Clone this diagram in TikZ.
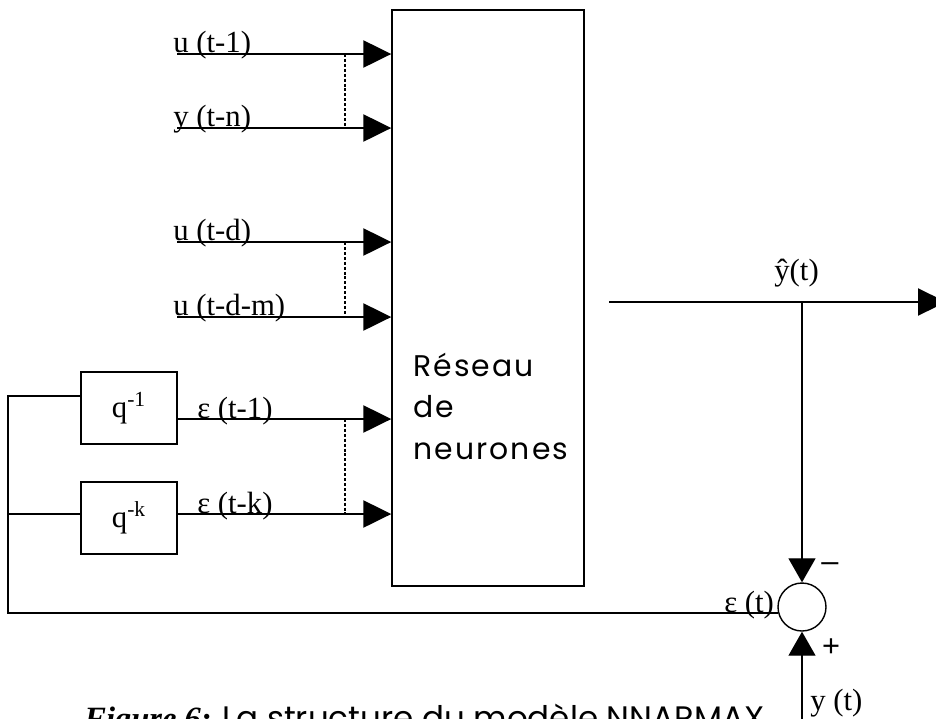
\documentclass[tikz,border=0pt]{standalone}
\usepackage{fontspec}
\setmainfont{Liberation Serif}
\setsansfont{Poppins}
\newfontfamily\signfont{Liberation Sans}
\usetikzlibrary{arrows.meta}

\tikzset{
  sig/.style={line width=1.3pt, -{Triangle[length=0.56cm,width=0.54cm]}},
  thinsig/.style={line width=0.75pt, -{Triangle[length=0.48cm,width=0.54cm]}},
  fbline/.style={line width=0.75pt},
  dotline/.style={line width=0.6pt, dash pattern=on 1.7pt off 1.1pt},
  delaybox/.style={draw, line width=0.8pt, minimum width=1.92cm, minimum height=1.44cm, inner sep=0pt, font=\fontsize{17.5}{19}\selectfont},
  lbl/.style={font=\fontsize{17.5}{19}\selectfont, inner sep=0pt, anchor=base west},
  sign/.style={font=\signfont\fontsize{17.5}{18}\selectfont, inner sep=0pt},
}

\begin{document}
\begin{tikzpicture}[x=0.02cm,y=-0.02cm]
  \useasboundingbox (0,0) rectangle (936,718);

  % neural network block
  \node[draw, line width=0.8pt, minimum width=3.84cm, minimum height=11.52cm, inner sep=0pt] (nn) at (488,298) {};
  \node[anchor=base west, inner sep=0pt, align=left,
        font={\sffamily\fontsize{17}{23.6}\selectfont\addfontfeature{LetterSpace=7}}] (nntxt) at (413,459) {Réseau\\de\\neurones};

  % inputs u and y
  \coordinate (in1) at (177,54);
  \coordinate (in2) at (177,128);
  \coordinate (in3) at (177,242);
  \coordinate (in4) at (177,317);
  \coordinate (dx) at (345,0);

  \draw[sig] (in1) -- (in1 -| nn.west);
  \draw[sig] (in2) -- (in2 -| nn.west);
  \draw[sig] (in3) -- (in3 -| nn.west);
  \draw[sig] (in4) -- (in4 -| nn.west);
  \draw[dotline] (in1 -| dx) -- (in2 -| dx);
  \draw[dotline] (in3 -| dx) -- (in4 -| dx);

  \node[lbl] (lu1) at (173,52) {u (t-1)};
  \node[lbl] (lyn) at (173,126) {y (t-n)};
  \node[lbl] (lud) at (173,240) {u (t-d)};
  \node[lbl] (ludm) at (173,315) {u (t-d-m)};

  % delayed errors
  \node[delaybox] (q1) at (129,408) {q\textsuperscript{-1}\hspace{16pt}};
  \node[delaybox] (qk) at (129,518) {q\textsuperscript{-k}\hspace{16pt}};
  \coordinate (in5) at (177,419);
  \coordinate (in6) at (177,514);
  \draw[sig] (in5) -- (in5 -| nn.west);
  \draw[sig] (in6) -- (in6 -| nn.west);
  \draw[dotline] (in5 -| dx) -- (in6 -| dx);
  \node[lbl] (le1) at (197,418) {ε (t-1)};
  \node[lbl] (lek) at (197,513) {ε (t-k)};

  % output and comparator
  \node[draw, circle, line width=0.8pt, minimum size=0.96cm, inner sep=0pt] (sum) at (802,607) {};
  \coordinate (ys) at (609,302);
  \coordinate (ye) at (946,302);
  \coordinate (br) at (802,302);
  \coordinate (ym) at (802,740);
  \draw[sig] (ys) -- (ye);
  \draw[thinsig] (br) -- (sum.north);
  \draw[thinsig] (ym) -- (sum.south);
  \node[lbl] (lyh) at (774,280) {ŷ(t)};
  \node[sign] (lminus) at (830,567) {–};
  \node[sign] (lplus) at (831,648) {+};
  \node[lbl] (lyt) at (810,710) {y (t)};

  % error feedback
  \coordinate (fb1) at (8,396);
  \coordinate (fb2) at (8,514);
  \draw[fbline] (fb1 -| q1.west) -- (fb1) |- (sum.194);
  \draw[fbline] (fb2) -- (fb2 -| qk.west);
  \node[lbl] (let) at (724,612) {ε (t)};

  % caption, cut by the page edge
  \node[anchor=base west, inner sep=0pt, font=\fontsize{18.5}{22}\selectfont] (cap) at (84,729)
    {\textbf{\textit{Figure 6:}} {\sffamily La structure du modèle NNARMAX}};
\end{tikzpicture}
\end{document}
